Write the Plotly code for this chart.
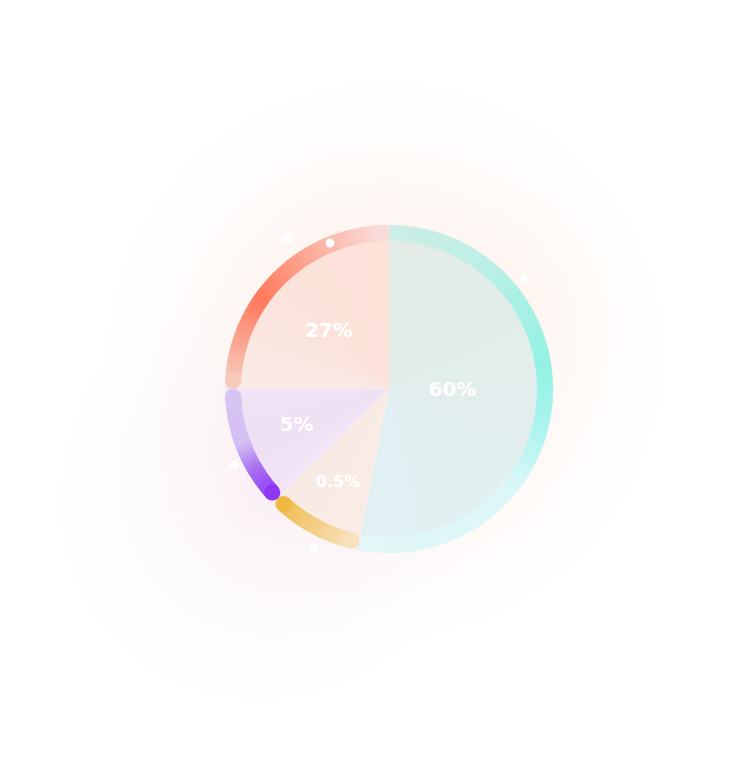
import base64
import numpy as np
import plotly.graph_objects as go

# ---------------- data ----------------
slice_labels = ["60%", "0.5%", "5%", "27%"]          # texts shown on the chart
slice_values = [53.1, 9.6, 12.4, 25.0]               # shares

# ---------------- styles / positions ----------------
fill_stops = [
    [(0.0, "#e3ebe5"), (0.5, "#e2eeec"), (1.0, "#e1f0f4")],
    [(0.0, "#f9ece6"), (1.0, "#f8ebe3")],
    [(0.0, "#f2e6f6"), (0.5, "#efdff3"), (1.0, "#f0e3f4")],
    [(0.0, "#fbeae6"), (0.5, "#fbe3db"), (1.0, "#fce2d9")],
]
ring_stops = [
    [(0.0, "#cdeee6"), (0.2, "#bdefe6"), (0.43, "#93f2e4"), (0.56, "#acf4ee"), (0.68, "#dcf7f8"), (1.0, "#e2f7f6")],
    [(0.0, "#f7e1bc"), (1.0, "#efb843")],
    [(0.0, "#8d37f5"), (0.3, "#a86ef1"), (0.55, "#d3bcf3"), (1.0, "#d7c3f4")],
    [(0.0, "#f6cabd"), (0.38, "#ff785a"), (0.75, "#fbb6a7"), (1.0, "#f9dcd8")],
]
label_theta = [91.4, 208.6, 248.4, 313.5]
label_r = [63.5, 106.5, 99.5, 82.8]
label_size = [20, 16, 20, 20]

W, H = 753, 775
OFF = 8                      # page body margin shifts the figure by 8 px
CX, CY = 389 - OFF, 389 - OFF
R_OUT, RING_W = 164, 16
R_IN = R_OUT - RING_W
R_MID = R_OUT - RING_W / 2
R_AX = 180
cap_deg = np.degrees((RING_W / 2) / R_MID)


def hex2rgb(h):
    h = h.lstrip("#")
    return np.array([int(h[i:i + 2], 16) for i in (0, 2, 4)], dtype=float)


def interp_color(stops, t):
    for (t0, c0), (t1, c1) in zip(stops[:-1], stops[1:]):
        if t <= t1:
            f = 0 if t1 == t0 else (t - t0) / (t1 - t0)
            c = hex2rgb(c0) * (1 - f) + hex2rgb(c1) * f
            return "rgb(%d,%d,%d)" % tuple(np.round(c))
    c = hex2rgb(stops[-1][1])
    return "rgb(%d,%d,%d)" % tuple(c)


vals = np.array(slice_values, dtype=float)
spans = vals / vals.sum() * 360.0
ends = np.cumsum(spans)
starts = ends - spans

fig = go.Figure()

# pie fills (coarse angular gradient, drawn as overlapping wedges)
NF = 8
for i in range(len(vals)):
    a0, a1 = starts[i], ends[i]
    edges = np.linspace(a0, a1, NF + 1)
    segm = (edges[:-1] + edges[1:]) / 2
    w = (a1 - a0) / NF
    cols = [interp_color(fill_stops[i], (m - a0) / (a1 - a0)) for m in segm]
    th = list(segm)
    widths = [w * 1.5] * NF
    th[0] = a0 + w * 0.5
    widths[0] = w
    th[-1] = a1 - w * 0.5
    widths[-1] = w
    fig.add_trace(go.Barpolar(
        r=[R_OUT] * NF, theta=th, width=widths,
        marker=dict(color=cols, line=dict(width=0)),
        hoverinfo="skip",
    ))

# outer ring with gradients
N = 60
cap_r, cap_t, cap_c = [], [], []
for i in range(len(vals)):
    a0 = starts[i] + (0 if i == 0 else cap_deg)
    a1 = ends[i] - cap_deg
    edges = np.linspace(a0, a1, N + 1)
    segm = (edges[:-1] + edges[1:]) / 2
    w = (a1 - a0) / N
    cols = [interp_color(ring_stops[i], (m - a0) / (a1 - a0)) for m in segm]
    widths = [w * 1.1] * N
    widths[0] = w
    fig.add_trace(go.Barpolar(
        r=[RING_W] * N, base=[R_IN] * N, theta=segm, width=widths,
        marker=dict(color=cols, line=dict(width=0)),
        hoverinfo="skip",
    ))
    if i != 0:
        cap_r.append(R_MID); cap_t.append(a0); cap_c.append(interp_color(ring_stops[i], 0))
    cap_r.append(R_MID); cap_t.append(a1); cap_c.append(interp_color(ring_stops[i], 1))

fig.add_trace(go.Scatterpolar(
    r=cap_r, theta=cap_t, mode="markers",
    marker=dict(size=RING_W, color=cap_c, line=dict(width=0)),
    cliponaxis=False, hoverinfo="skip",
))

# labels
fig.add_trace(go.Scatterpolar(
    r=label_r, theta=label_theta, mode="text", text=slice_labels,
    textfont=dict(family="DejaVu Sans", size=label_size, color="white", weight="bold"),
    hoverinfo="skip",
))

# background glow (very subtle)
svg = f"""<svg xmlns='http://www.w3.org/2000/svg' width='{W}' height='{H}' viewBox='0 0 {W} {H}'>
<defs>
<radialGradient id='a' cx='{385 - OFF}' cy='{360 - OFF}' r='320' gradientUnits='userSpaceOnUse'>
<stop offset='0' stop-color='#fbd3c4' stop-opacity='0.55'/>
<stop offset='0.4' stop-color='#fcdfd2' stop-opacity='0.33'/>
<stop offset='0.7' stop-color='#fdece4' stop-opacity='0.14'/>
<stop offset='1' stop-color='#ffffff' stop-opacity='0'/>
</radialGradient>
<radialGradient id='b' cx='{260 - OFF}' cy='{500 - OFF}' r='240' gradientUnits='userSpaceOnUse'>
<stop offset='0' stop-color='#f1dcf3' stop-opacity='0.3'/>
<stop offset='0.6' stop-color='#f6eaf7' stop-opacity='0.15'/>
<stop offset='1' stop-color='#ffffff' stop-opacity='0'/>
</radialGradient>
<radialGradient id='c' cx='{520 - OFF}' cy='{300 - OFF}' r='200' gradientUnits='userSpaceOnUse'>
<stop offset='0' stop-color='#fde9d6' stop-opacity='0.15'/>
<stop offset='1' stop-color='#ffffff' stop-opacity='0'/>
</radialGradient>
</defs>
<rect width='{W}' height='{H}' fill='#ffffff'/>
<rect width='{W}' height='{H}' fill='url(#a)'/>
<rect width='{W}' height='{H}' fill='url(#b)'/>
<rect width='{W}' height='{H}' fill='url(#c)'/>
</svg>"""
src = "data:image/svg+xml;base64," + base64.b64encode(svg.encode()).decode()


def px(x):
    return (x - OFF) / W


def py(y):
    return 1 - (y - OFF) / H


shapes = []
# faint dashed decoration lines
for (x0, y0, x1, y1) in [(260, 213, 287, 238), (523, 278, 563, 243), (233, 465, 175, 520), (314, 548, 280, 590)]:
    shapes.append(dict(type="line", xref="paper", yref="paper", x0=px(x0), y0=py(y0), x1=px(x1), y1=py(y1),
                       line=dict(color="rgba(255,255,255,0.55)", width=1.2, dash="dash"), layer="above"))
for (x, y, rr) in [(287, 238, 4.5), (330, 243, 4.5), (523, 279, 4.2), (234, 465, 4.5), (314, 548, 4.5)]:
    shapes.append(dict(type="circle", xref="paper", yref="paper",
                       x0=px(x - rr), x1=px(x + rr), y0=py(y + rr), y1=py(y - rr),
                       fillcolor="white", line=dict(width=0), layer="above"))

fig.update_layout(
    width=W, height=H,
    margin=dict(l=0, r=0, t=0, b=0),
    paper_bgcolor="white",
    showlegend=False,
    images=[dict(source=src, xref="paper", yref="paper", x=0, y=1, sizex=1, sizey=1,
                 sizing="stretch", xanchor="left", yanchor="top", layer="below")],
    shapes=shapes,
    polar=dict(
        domain=dict(x=[(CX - R_AX) / W, (CX + R_AX) / W], y=[1 - (CY + R_AX) / H, 1 - (CY - R_AX) / H]),
        bgcolor="rgba(0,0,0,0)",
        angularaxis=dict(visible=False, direction="clockwise", rotation=90),
        radialaxis=dict(visible=False, range=[0, R_AX]),
    ),
)

fig.write_html("out.html")
